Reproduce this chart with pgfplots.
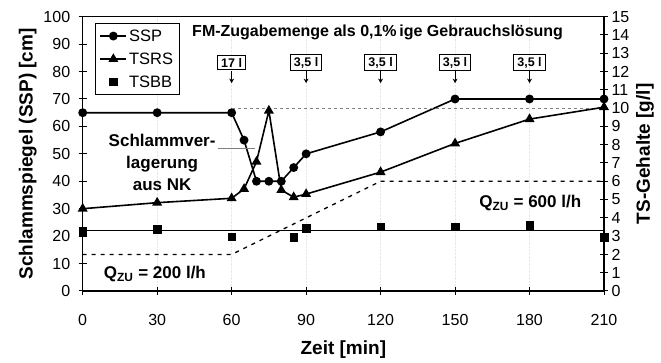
\documentclass[border=0pt]{standalone}
\usepackage{fontspec}
\setmainfont{Liberation Sans}
\usepackage{pgfplots}
\pgfplotsset{compat=1.18}
\usetikzlibrary{arrows.meta}

\pgfplotstableread{
x y
0 65
30 65
60 65
65 55
70 40
75 40
80 40
85 45
90 50
120 58
150 70
180 70
210 70
}\ssp
\pgfplotstableread{
x y
0 4.5
30 4.83
60 5.07
65 5.58
70 7.07
75 9.86
80 5.52
85 5.13
90 5.3
120 6.5
150 8.07
180 9.4
210 10.05
}\tsrs
\pgfplotstableread{
x y
0 3.28
30 3.37
60 2.97
85 2.94
90 3.43
120 3.52
150 3.52
180 3.6
210 2.94
}\tsbb
\pgfplotstableread{
x y
0 2
60 2
120 6
210 6
}\qzu

\pgfplotsset{
  common/.style={
    scale only axis, width=521.3pt, height=274.3pt,
    xmin=0, xmax=210,
    /pgf/number format/assume math mode=true,
    tick align=center, major tick length=8pt,
    tick style={black, line width=1pt},
    axis line style={line width=1.1pt},
    ticklabel style={font=\fontsize{16}{19}\selectfont},
    label style={font=\bfseries\fontsize{19}{22}\selectfont},
  },
}
\tikzset{
  dosebox/.style={draw, line width=1pt, inner xsep=3.5pt, inner ysep=2.6pt, font=\bfseries\fontsize{12.5}{14}\selectfont},
  dosearrow/.style={line width=0.9pt, -{Stealth[length=4.5pt,width=5pt]}},
}

\begin{document}
\begin{tikzpicture}
\begin{axis}[common, name=main,
  ymin=0, ymax=100,
  xtick={0,30,...,210}, ytick={0,10,...,100},
  xtick pos=bottom, ytick pos=left,
  xmajorgrids, grid style={gray!18, densely dotted, line width=0.5pt},
  xlabel={Zeit [min]}, ylabel={Schlammspiegel (SSP) [cm]},
  xticklabel style={yshift=-16pt},
  yticklabel style={xshift=-5pt},
  xlabel style={yshift=-8pt},
  ylabel style={yshift=0pt},
]
\addplot[black, line width=1.6pt, mark=*, mark size=3.6pt, mark options={solid}] table {\ssp};
\addplot[gray, line width=0.7pt] coordinates {(54.5,52) (69.5,52)};
\node[font=\bfseries\fontsize{16}{19}\selectfont] at (axis cs:118.8,94.1) {FM-Zugabemenge als 0,1\%\,ige Gebrauchslösung};
\node[dosebox] at (axis cs:60,83.3) {17 l};
\draw[dosearrow] (axis cs:60,80.2) -- (axis cs:60,75.8);
\node[dosebox] at (axis cs:90,83.3) {3,5 l};
\draw[dosearrow] (axis cs:90,80.2) -- (axis cs:90,75.8);
\node[dosebox] at (axis cs:120,83.3) {3,5 l};
\draw[dosearrow] (axis cs:120,80.2) -- (axis cs:120,75.8);
\node[dosebox] at (axis cs:150,83.3) {3,5 l};
\draw[dosearrow] (axis cs:150,80.2) -- (axis cs:150,75.8);
\node[dosebox] at (axis cs:180,83.3) {3,5 l};
\draw[dosearrow] (axis cs:180,80.2) -- (axis cs:180,75.8);
\node[align=center, font=\bfseries\fontsize{17}{22}\selectfont] at (axis cs:32,47) {Schlammver-\\lagerung\\aus NK};
\node[font=\bfseries\fontsize{17}{20}\selectfont] at (axis cs:29.1,6.2) {Q\textsubscript{ZU} = 200 l/h};
\node[font=\bfseries\fontsize{17}{20}\selectfont] at (axis cs:180.3,32.1) {Q\textsubscript{ZU} = 600 l/h};
\end{axis}
\begin{axis}[common,
  ymin=0, ymax=15,
  axis y line*=right, axis x line=none,
  ytick={0,1,...,15},
  ylabel={TS-Gehalte [g/l]},
  legend style={at={(rel axis cs:0.0236,0.977)}, anchor=north west, draw=black, line width=1.1pt,
    font=\fontsize{16.5}{19}\selectfont, row sep=6pt, inner xsep=4pt, inner ysep=4pt, cells={anchor=west}},
  legend image code/.code={\draw[mark repeat=2,mark phase=2] plot coordinates {(0pt,0pt)(13pt,0pt)(26pt,0pt)};},
]
\addlegendimage{black, line width=1.6pt, mark=*, mark size=3.6pt}
\addlegendentry{SSP}
\addplot[gray, dashed, line width=0.7pt, forget plot] coordinates {(60,10) (210,10)};
\addplot[black, line width=1.3pt, dash pattern=on 4pt off 5pt, forget plot] table {\qzu};
\addplot[black, line width=1.6pt, forget plot] coordinates {(0,3.3) (210,3.3)};
\addplot[black, line width=1.6pt, mark=triangle*, mark size=4.2pt, mark options={solid}] table {\tsrs};
\addlegendentry{TSRS}
\addplot[black, only marks, mark=square*, mark size=3.8pt] table {\tsbb};
\addlegendentry{TSBB}
\end{axis}
\pgfresetboundingbox
\path (main.south west) ++(-82.7pt,-72pt) rectangle ++(661pt,363pt);
\end{tikzpicture}
\end{document}
